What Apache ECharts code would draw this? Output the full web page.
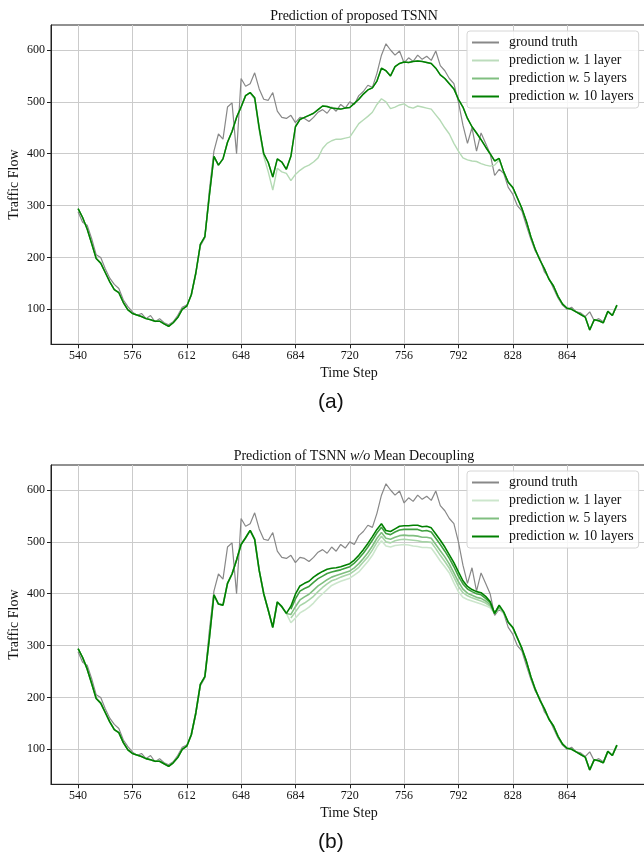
<!DOCTYPE html>
<html><head><meta charset="utf-8">
<script src="https://cdn.jsdelivr.net/npm/echarts@6/dist/echarts.min.js"></script>
<style>html,body{margin:0;padding:0;background:#fff}#c{width:644px;height:857px}</style>
</head><body><div id="c"></div>
<script>
// time steps sampled every 3 steps (540 .. 897)
const timeSteps = [];
for (let i = 0; i < 120; i++) timeSteps.push(540 + 3 * i);
const FAN_START = 47; // index of step 681, where the panel (b) layers fan out
const xTicks = [540, 576, 612, 648, 684, 720, 756, 792, 828, 864];
const yTicks = [100, 200, 300, 400, 500, 600];

const groundTruth = [288,268,262,236,205,200,178,160,148,140,
118,105,95,88,92,82,88,76,82,74,
70,76,88,104,108,126,168,222,238,330,
405,438,428,490,498,400,545,530,535,556,
525,505,503,518,482,470,468,474,460,470,
468,462,470,480,485,478,490,482,495,488,
500,495,512,520,532,528,555,590,612,600,
590,598,575,585,578,590,582,588,580,598,
570,560,545,535,500,455,420,450,405,440,
420,400,358,370,362,335,322,300,290,262,
235,212,198,172,160,140,122,108,100,104,
95,93,86,95,78,82,76,96,88,107];

const predA10 = [294,277,255,227,198,189,171,153,138,132,
113,99,92,89,86,82,80,77,77,72,
67,74,84,100,106,128,170,225,240,320,
395,378,390,422,443,470,490,512,518,508,
450,400,383,355,390,384,370,395,452,466,
470,474,478,485,492,491,488,487,486,488,
489,497,505,515,523,527,540,565,560,550,
568,574,577,576,578,579,578,576,574,565,
552,545,535,525,505,490,468,452,440,427,
413,400,386,391,365,345,335,315,295,270,
240,215,195,178,158,145,125,110,102,100,
95,90,85,60,80,78,74,96,88,108];

const predA5 = predA10.slice(); // indistinguishable from 10 layers in panel (a)

const predA1 = [294,277,255,227,198,189,171,153,138,132,
113,99,92,89,86,82,80,77,77,72,
67,74,84,100,106,128,170,225,240,320,
395,378,390,422,443,470,490,512,518,505,
445,395,365,330,372,365,362,348,360,368,
374,378,384,392,410,420,425,428,428,430,
432,445,458,465,472,480,495,506,500,487,
490,494,496,490,488,492,490,488,486,475,
464,450,438,420,405,392,388,386,385,381,
378,376,378,388,365,345,335,315,295,270,
240,215,195,178,158,145,125,110,102,100,
95,90,85,60,80,78,74,96,88,108];

const predB10 = [294,277,255,227,198,189,171,153,138,132,
113,99,92,89,86,82,80,77,77,72,
67,74,84,100,106,128,170,225,240,315,
398,380,378,420,438,465,495,508,522,505,
445,400,368,335,384,375,362,376,399,415,
420,424,432,438,443,447,449,450,452,455,
458,465,474,485,497,510,524,535,522,520,
525,530,531,531,532,532,529,530,527,515,
503,490,475,460,442,425,414,408,404,402,
395,385,362,378,365,345,335,315,295,270,
240,215,195,178,158,145,125,110,102,100,
95,90,85,60,80,78,74,96,88,108];

const predB5 = [294,277,255,227,198,189,171,153,138,132,
113,99,92,89,86,82,80,77,77,72,
67,74,84,100,106,128,170,225,240,315,
398,380,378,420,438,465,495,508,522,505,
445,400,368,335,384,375,362,360,375,388,
394,399,407,415,421,427,432,435,438,441,
444,450,458,468,479,492,507,518,507,505,
509,512,513,512,512,511,509,509,507,495,
483,471,457,440,423,409,401,397,393,391,
386,379,362,375,364,345,335,315,295,270,
240,215,195,178,158,145,125,110,102,100,
95,90,85,60,80,78,74,96,88,108];

const predB1 = [294,277,255,227,198,189,171,153,138,132,
113,99,92,89,86,82,80,77,77,72,
67,74,84,100,106,128,170,225,240,315,
398,380,378,420,438,465,495,508,522,505,
445,400,368,335,384,375,362,344,353,363,
368,374,382,392,400,408,416,420,424,427,
430,436,442,452,462,474,490,502,492,490,
493,494,495,494,492,491,489,489,488,476,
463,452,440,421,404,393,389,386,383,380,
377,373,362,372,363,345,335,315,295,270,
240,215,195,178,158,145,125,110,102,100,
95,90,85,60,80,78,74,96,88,108];

// unlabeled intermediate layers in panel (b), only where they separate (steps 681 .. 819)
const predB3Fan = [353,365,377,382,388,395,404,412,419,425,428,432,435,438,444,451,461,471,484,499,
511,500,498,502,504,505,504,503,502,500,500,499,487,474,462,449,432,414,402,396,392,389,386,382,376,362,374];
const predB8Fan = [370,390,405,410,414,422,429,434,439,442,444,446,449,452,459,468,478,490,503,517,
528,516,514,519,523,524,524,524,524,521,522,519,507,495,482,468,452,434,419,409,404,400,398,391,383,362,377];

const SERIF = '"Liberation Serif", "DejaVu Serif", serif';
const pair = (arr, off) => arr.map((v, i) => [timeSteps[i + (off || 0)], v]);

function xAxisFor(gi) {
  return {
    type: 'value', gridIndex: gi, min: 522.05, max: 916.95,
    name: 'Time Step', nameLocation: 'middle', nameGap: 22, nameMoveOverlap: false,
    nameTextStyle: {fontFamily: SERIF, fontSize: 14, color: '#111'},
    axisLine: {show: true, lineStyle: {color: '#222', width: 1}},
    axisTick: {show: true, inside: false, length: 4, customValues: xTicks, lineStyle: {color: '#222'}},
    axisLabel: {customValues: xTicks, fontFamily: SERIF, fontSize: 12, color: '#111', margin: 6},
    splitLine: {show: true, lineStyle: {color: '#cbcbcb', width: 1}}
  };
}
function yAxisFor(gi) {
  return {
    type: 'value', gridIndex: gi, min: 32.5, max: 648.2,
    name: 'Traffic Flow', nameLocation: 'middle', nameGap: 30, nameRotate: 90, nameMoveOverlap: false,
    nameTextStyle: {fontFamily: SERIF, fontSize: 14, color: '#111'},
    axisLine: {show: true, lineStyle: {color: '#222', width: 1}},
    axisTick: {show: true, inside: false, length: 4, customValues: yTicks, lineStyle: {color: '#222'}},
    axisLabel: {customValues: yTicks, fontFamily: SERIF, fontSize: 12, color: '#111', margin: 6},
    splitLine: {show: true, lineStyle: {color: '#cbcbcb', width: 1}}
  };
}
function line(name, gi, points, color, width, z) {
  return {
    name: name, type: 'line', xAxisIndex: gi, yAxisIndex: gi, data: points,
    showSymbol: false, symbol: 'none', z: z,
    lineStyle: {color: color, width: width}, itemStyle: {color: color},
    emphasis: {disabled: true}
  };
}
const labelFmt = name => {
  const s = name.split('|')[1];
  const m = s.match(/^prediction w\. (.*)$/);
  if (m) return '{n|prediction }{i|w.}{n| ' + m[1] + '}';
  return '{n|' + s + '}';
};
function legendFor(prefix, top, colors) {
  const names = ['ground truth', 'prediction w. 1 layer', 'prediction w. 5 layers', 'prediction w. 10 layers'];
  return {
    orient: 'vertical', left: 467, top: top, itemWidth: 27, itemHeight: 2, itemGap: 3,
    icon: 'rect', padding: [4, 5, 4, 5],
    backgroundColor: 'rgba(255,255,255,0.85)', borderColor: '#d6d6d6', borderWidth: 1, borderRadius: 3,
    data: names.map((n, k) => ({name: prefix + '|' + n, itemStyle: {color: colors[k]}})),
    formatter: labelFmt, selectedMode: false,
    textStyle: {fontFamily: SERIF, fontSize: 13.8, color: '#111', lineHeight: 15, padding: [0, 0, 0, 5],
      rich: {n: {fontFamily: SERIF, fontSize: 13.8, color: '#111'}, i: {fontFamily: SERIF, fontSize: 13.8, fontStyle: 'italic', color: '#111'}}}
  };
}

const chart = echarts.init(document.getElementById('c'), null, {renderer: 'canvas'});
chart.setOption({
  animation: false,
  backgroundColor: '#fff',
  title: [
    {text: 'Prediction of proposed TSNN', left: 349, top: 4, textAlign: 'center',
     textStyle: {fontFamily: SERIF, fontSize: 14, fontWeight: 'normal', color: '#111'}},
    {text: '{n|Prediction of TSNN }{i|w/o}{n| Mean Decoupling}', left: 349, top: 444, textAlign: 'center',
     textStyle: {fontFamily: SERIF, fontSize: 14, fontWeight: 'normal', color: '#111',
       rich: {n: {fontFamily: SERIF, fontSize: 14, color: '#111'}, i: {fontFamily: SERIF, fontSize: 14, fontStyle: 'italic', color: '#111'}}}}
  ],
  grid: [
    {left: 51, right: -3, top: 25, height: 319.3, show: true, borderColor: '#222', borderWidth: 1,
     containLabel: false, outerBoundsMode: 'none'},
    {left: 51, right: -3, top: 465, height: 319.3, show: true, borderColor: '#222', borderWidth: 1,
     containLabel: false, outerBoundsMode: 'none'}
  ],
  xAxis: [xAxisFor(0), xAxisFor(1)],
  yAxis: [yAxisFor(0), yAxisFor(1)],
  legend: [
    legendFor('a', 31, ['#888888', '#bcdcbc', '#80bf80', '#008000']),
    legendFor('b', 471, ['#888888', '#cce6cc', '#80bf80', '#008000'])
  ],
  series: [
    line('a|ground truth', 0, pair(groundTruth), '#888888', 1.2, 2),
    line('a|prediction w. 1 layer', 0, pair(predA1), '#b5dab5', 1.4, 3),
    line('a|prediction w. 5 layers', 0, pair(predA5), '#80bf80', 1.4, 4),
    line('a|prediction w. 10 layers', 0, pair(predA10), '#008000', 1.5, 5),
    line('b|ground truth', 1, pair(groundTruth), '#888888', 1.2, 2),
    line('b|prediction w. 1 layer', 1, pair(predB1), '#cce6cc', 1.6, 3),
    line('b|prediction w. 3 layers', 1, pair(predB3Fan, FAN_START), '#a8d4a8', 1.6, 3),
    line('b|prediction w. 5 layers', 1, pair(predB5), '#80bf80', 1.6, 4),
    line('b|prediction w. 8 layers', 1, pair(predB8Fan, FAN_START), '#40a040', 1.6, 4),
    line('b|prediction w. 10 layers', 1, pair(predB10), '#008000', 1.6, 5)
  ],
  graphic: [
    {type: 'text', left: 318, top: 392, style: {text: '(a)', font: '21px "Liberation Sans", Arial, sans-serif', fill: '#111'}},
    {type: 'text', left: 318, top: 832, style: {text: '(b)', font: '21px "Liberation Sans", Arial, sans-serif', fill: '#111'}}
  ]
});
</script></body></html>
